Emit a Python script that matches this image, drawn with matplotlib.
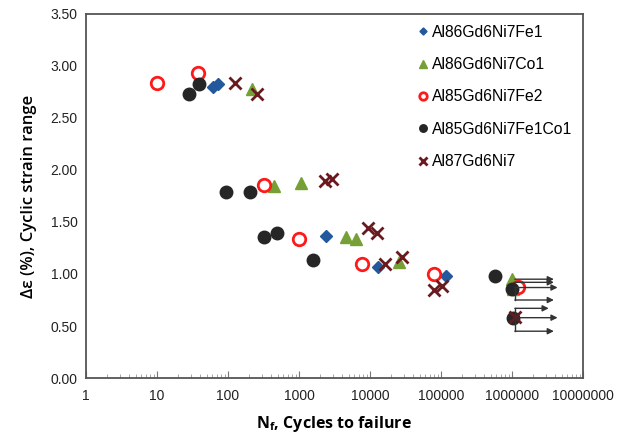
import matplotlib
matplotlib.use("Agg")
import matplotlib.pyplot as plt
from matplotlib.ticker import FixedLocator, FuncFormatter, LogLocator, NullFormatter

# data (N_f, strain range %)
fe1_n = [61, 72, 2400, 13000, 117000, 1.2e6]
fe1_e = [2.80, 2.83, 1.37, 1.07, 0.98, 0.87]

co1_n = [218, 445, 1070, 4600, 6300, 25700, 1.0e6, 1.05e6]
co1_e = [2.78, 1.85, 1.875, 1.36, 1.34, 1.12, 0.95, 0.86]

fe2_n = [10, 38, 320, 1000, 7700, 79000, 1.2e6]
fe2_e = [2.84, 2.93, 1.86, 1.34, 1.10, 1.00, 0.875]

fe1co1_n = [28, 39, 94, 204, 320, 490, 1580, 575000, 1.0e6, 1.05e6]
fe1co1_e = [2.73, 2.83, 1.79, 1.79, 1.36, 1.39, 1.13, 0.98, 0.86, 0.58]

al87_n = [126, 256, 2340, 2900, 9400, 12600, 16300, 28000, 80000, 102000, 1.1e6]
al87_e = [2.84, 2.73, 1.89, 1.91, 1.44, 1.39, 1.10, 1.16, 0.85, 0.885, 0.585]

# run-out arrows: start level, arrow level, tip
runout_from = [0.95, 0.92, 0.87, 0.87, 0.58, 0.58, 0.58]
runout_to = [0.95, 0.92, 0.87, 0.75, 0.67, 0.58, 0.45]
runout_tip = [3.9e6, 3.9e6, 4.4e6, 3.9e6, 3.3e6, 4.4e6, 3.9e6]
runout_n = 1.1e6

xticks = [1, 10, 100, 1000, 10000, 100000, 1000000, 10000000]
yticks = [0.0, 0.5, 1.0, 1.5, 2.0, 2.5, 3.0, 3.5]

fig = plt.figure(figsize=(6.25, 4.37), dpi=100)
ax = fig.add_axes([0.1376, 0.135, 0.795, 0.833])

ax.plot(fe1_n, fe1_e, "D", color="#24589c", ms=6, ls="none", label="Al86Gd6Ni7Fe1")
ax.plot(co1_n, co1_e, "^", color="#76a035", ms=9, ls="none", label="Al86Gd6Ni7Co1")
ax.plot(fe2_n, fe2_e, "o", mfc="white", mec="#ff1a1a", mew=2, ms=9, ls="none",
        label="Al85Gd6Ni7Fe2")
ax.plot(fe1co1_n, fe1co1_e, "o", color="#262626", ms=9, ls="none", label="Al85Gd6Ni7Fe1Co1")
ax.plot(al87_n, al87_e, "x", color="#6a1a1f", ms=9, mew=2, ls="none", label="Al87Gd6Ni7")

for y0, y1, tip in zip(runout_from, runout_to, runout_tip):
    if y0 != y1:
        ax.plot([runout_n, runout_n], [y0, y1], color="#333333", lw=1)
    ax.annotate("", xy=(tip, y1), xytext=(runout_n, y1),
                arrowprops=dict(arrowstyle="-|>", color="#333333", lw=1,
                                mutation_scale=9, shrinkA=0, shrinkB=0))

ax.set_xscale("log")
ax.set_xlim(1, 1e7)
ax.set_ylim(0, 3.5)
ax.xaxis.set_major_locator(FixedLocator(xticks))
ax.xaxis.set_major_formatter(FuncFormatter(lambda v, p: "%d" % round(v)))
ax.xaxis.set_minor_locator(LogLocator(base=10, subs=range(2, 10), numticks=20))
ax.xaxis.set_minor_formatter(NullFormatter())
ax.set_yticks(yticks)
ax.set_yticklabels(["%.2f" % v for v in yticks])

ax.tick_params(axis="x", which="major", direction="in", length=5, color="#777777",
               labelsize=10, pad=8)
ax.tick_params(axis="x", which="minor", direction="in", length=3, color="#999999")
ax.tick_params(axis="y", length=0, labelsize=10, pad=6)
for lab in ax.get_xticklabels() + ax.get_yticklabels():
    lab.set_family("Liberation Sans")
    lab.set_color("#222222")

for s in ax.spines.values():
    s.set_color("#555555")
    s.set_linewidth(1.3)

ax.set_xlabel(r"N$_\mathregular{f}$, Cycles to failure", family="Open Sans",
              fontweight="bold", fontsize=11.5, labelpad=8)
ax.set_ylabel("Δε (%), Cyclic strain range", family="Open Sans",
              fontweight="semibold", fontsize=12, labelpad=10)

leg = ax.legend(loc="upper right", frameon=False, markerscale=0.6,
                handlelength=0.6, handletextpad=0.25, labelspacing=1.1,
                borderaxespad=0.3, bbox_to_anchor=(1.0, 1.0),
                prop={"family": "Liberation Sans", "size": 11.3})

fig.savefig("out.png", dpi=100)
